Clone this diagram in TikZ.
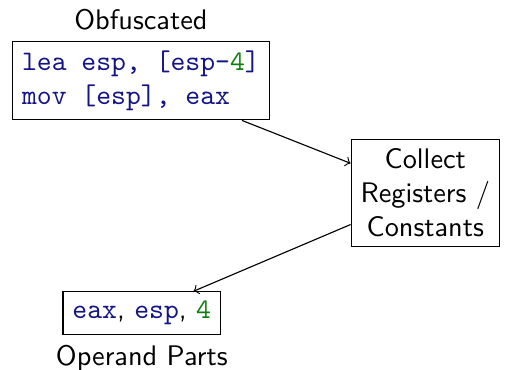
\documentclass[tikz,border=0pt]{standalone}
\usepackage{xcolor}
\definecolor{codeblue}{rgb}{0.08,0.08,0.52}
\definecolor{codegreen}{rgb}{0.05,0.5,0.05}
\newcommand{\reg}[1]{\textcolor{codeblue}{\ttfamily #1}}
\newcommand{\num}[1]{\textcolor{codegreen}{\ttfamily #1}}
\begin{document}
\begin{tikzpicture}[x=1pt,y=1pt,
  every node/.style={font=\sffamily},
  box/.style={draw, align=center},
  codebox/.style={draw, align=left},
  flow/.style={->}]
\useasboundingbox (0,0) rectangle (181.3,-130.7);
\node[codebox, label={above:Obfuscated}] (obf) at (49.8,-28.45)
  {\reg{lea esp, [esp-}\num{4}\reg{]}\\\reg{mov [esp], eax}};
\node[box] (collect) at (150.3,-68.15) {Collect\\Registers /\\Constants};
\node[box, label={below:Operand Parts}] (parts) at (50.1,-110.7)
  {\reg{eax}, \reg{esp}, \num{4}};
\draw[flow] (obf) -- (collect);
\draw[flow] (collect) -- (parts);
\end{tikzpicture}
\end{document}
